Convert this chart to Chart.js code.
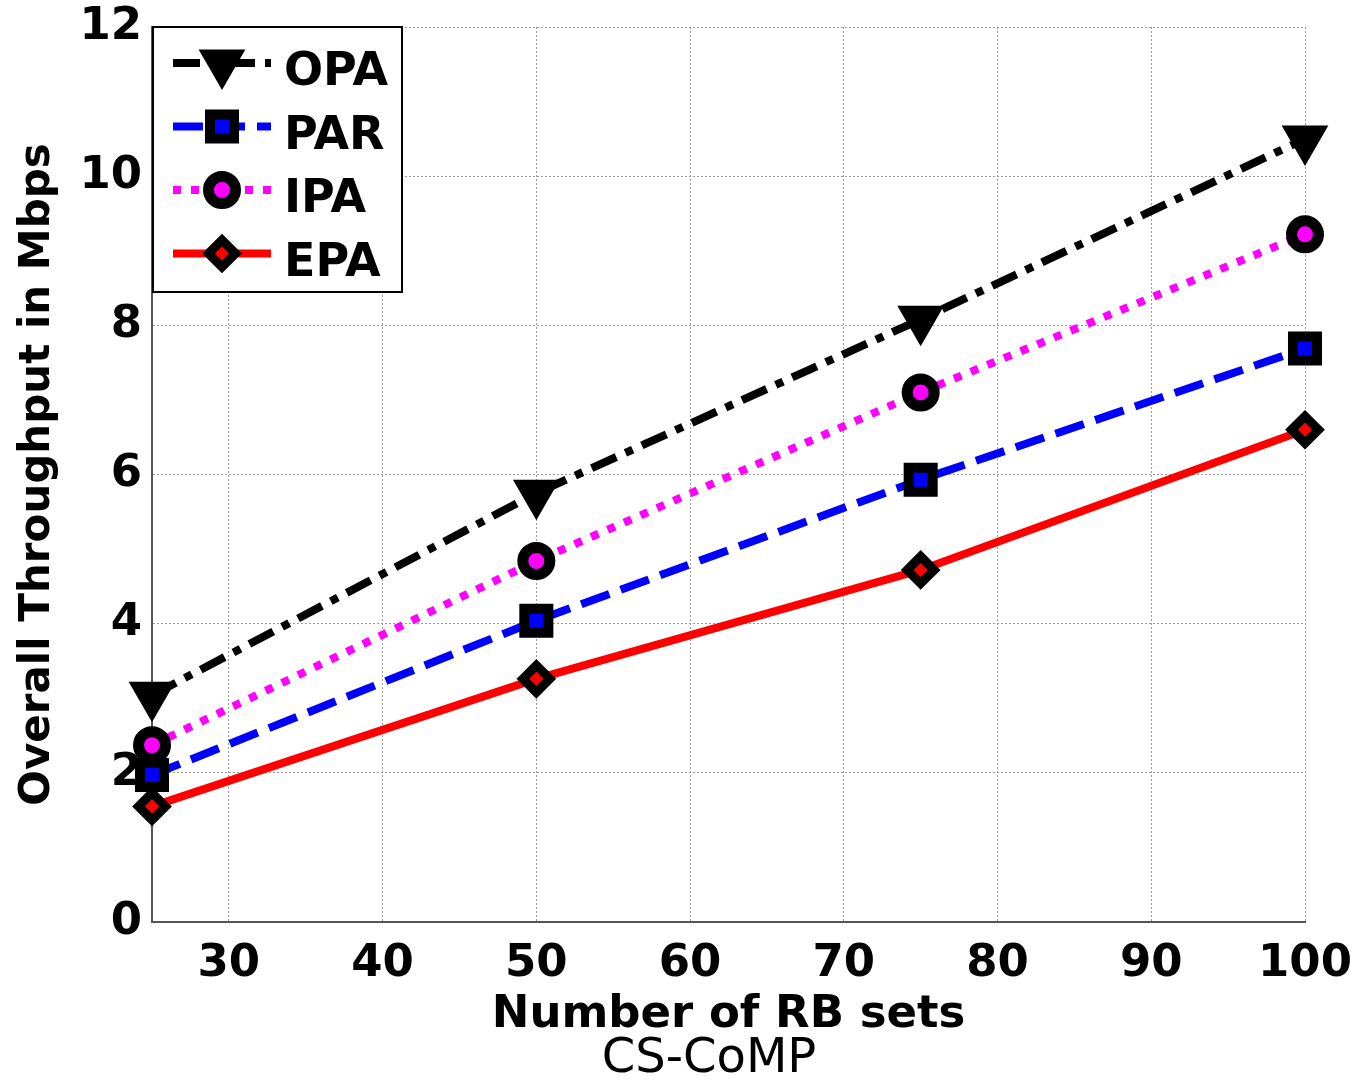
<!DOCTYPE html>
<html>
<head>
<meta charset="utf-8">
<script src="https://cdn.jsdelivr.net/npm/chart.js@4/dist/chart.umd.min.js"></script>
<style>
  body { margin: 0; background: #fff; overflow: hidden; }
  #wrap { position: relative; width: 1360px; height: 1080px; }
  #sub { position: absolute; left: 409px; width: 600px; top: 1027px; text-align: center;
         font: 48px 'DejaVu Sans', sans-serif; line-height: 56px; color: #000; }
</style>
</head>
<body>
<div id="wrap">
  <canvas id="comp_chart" width="1360" height="1080"></canvas>
  <div id="sub">CS-CoMP</div>
</div>
<script>
const rbSets = [25, 50, 75, 100];
const xTicks = [30, 40, 50, 60, 70, 80, 90, 100];
const yTicks = [0, 2, 4, 6, 8, 10, 12];

const opa = [3.04, 5.75, 8.08, 10.5];
const par = [1.97, 4.04, 5.93, 7.69];
const ipa = [2.37, 4.84, 7.10, 9.22];
const epa = [1.55, 3.26, 4.72, 6.60];

const toPts = (vals) => rbSets.map((x, i) => ({x: x, y: vals[i]}));

// legend drawn as a box with line sample + marker, like the MATLAB one
const legendBox = {
  id: 'legendBox',
  afterDraw(chart) {
    const ctx = chart.ctx;
    const x0 = chart.chartArea.left + 1, y0 = chart.chartArea.top;
    ctx.save();
    ctx.fillStyle = '#fff';
    ctx.fillRect(x0, y0, 249, 265);
    ctx.strokeStyle = '#000';
    ctx.lineWidth = 2;
    ctx.strokeRect(x0, y0, 249, 265);
    chart.data.datasets.forEach((ds, i) => {
      const y = y0 + 36 + i * 63.5;
      ctx.strokeStyle = ds.borderColor;
      ctx.lineWidth = ds.borderWidth;
      ctx.lineCap = 'butt';
      ctx.setLineDash(ds.borderDash || []);
      ctx.beginPath();
      ctx.moveTo(x0 + 20, y);
      ctx.lineTo(x0 + 118, y);
      ctx.stroke();
      ctx.setLineDash([]);
      ctx.fillStyle = ds.pointBackgroundColor;
      ctx.strokeStyle = ds.pointBorderColor;
      ctx.lineWidth = ds.pointBorderWidth;
      Chart.helpers.drawPoint(ctx, {
        pointStyle: ds.pointStyle,
        rotation: ds.pointRotation || 0,
        radius: ds.pointRadius,
        borderWidth: ds.pointBorderWidth
      }, x0 + 69, y);
      ctx.fillStyle = '#000';
      ctx.font = 'bold 46px "DejaVu Sans"';
      ctx.textBaseline = 'alphabetic';
      ctx.fillText(ds.label, x0 + 131, y + 22);
    });
    ctx.restore();
  }
};

const ctx = document.getElementById('comp_chart');

new Chart(ctx, {
  type: 'line',
  data: {
    datasets: [
      {
        label: 'OPA', data: toPts(opa),
        borderColor: '#000', borderWidth: 8, borderDash: [27, 10, 8, 10],
        pointStyle: 'triangle', pointRotation: 180, pointRadius: 25,
        pointBackgroundColor: '#000', pointBorderColor: '#000', pointBorderWidth: 2
      },
      {
        label: 'PAR', data: toPts(par),
        borderColor: '#0000ff', borderWidth: 8, borderDash: [30, 12],
        pointStyle: 'rect', pointRadius: 17,
        pointBackgroundColor: '#0000ff', pointBorderColor: '#000', pointBorderWidth: 10
      },
      {
        label: 'IPA', data: toPts(ipa),
        borderColor: '#ff00ff', borderWidth: 8, borderDash: [8, 10],
        pointStyle: 'circle', pointRadius: 13.5,
        pointBackgroundColor: '#ff00ff', pointBorderColor: '#000', pointBorderWidth: 11
      },
      {
        label: 'EPA', data: toPts(epa),
        borderColor: '#ff0000', borderWidth: 8,
        pointStyle: 'rectRot', pointRadius: 13.5,
        pointBackgroundColor: '#ff0000', pointBorderColor: '#000', pointBorderWidth: 9
      }
    ]
  },
  options: {
    responsive: false,
    animation: false,
    clip: false,
    layout: { padding: { top: 27, right: 55, left: 0, bottom: 0 } },
    elements: { line: { tension: 0, borderCapStyle: 'butt' } },
    plugins: {
      legend: { display: false },
      tooltip: { enabled: false }
    },
    scales: {
      x: {
        type: 'linear', min: 25, max: 100,
        afterBuildTicks: (s) => { s.ticks = xTicks.map(v => ({value: v})); },
        afterFit: (s) => { s.height = 158; s.paddingLeft = 0; s.paddingRight = 0; },
        grid: { color: '#9a9a9a', lineWidth: 1, drawTicks: false },
        border: { display: true, color: '#555', width: 2, dash: [2, 2] },
        ticks: { color: '#000', padding: 15, maxRotation: 0,
                 font: { family: 'DejaVu Sans', size: 45, weight: 'bold' } },
        title: { display: true, text: 'Number of RB sets', color: '#000',
                 padding: { top: 0, bottom: 38 },
                 font: { family: 'DejaVu Sans', size: 45, weight: 'bold' } }
      },
      y: {
        type: 'linear', min: 0, max: 12,
        afterBuildTicks: (s) => { s.ticks = yTicks.map(v => ({value: v})); },
        afterFit: (s) => { s.width = 152; s.paddingTop = 0; s.paddingBottom = 0; },
        grid: { color: '#9a9a9a', lineWidth: 1, drawTicks: false },
        border: { display: true, color: '#555', width: 2, dash: [2, 2] },
        ticks: { color: '#000', padding: 10,
                 font: { family: 'DejaVu Sans', size: 45, weight: 'bold' } },
        title: { display: true, text: 'Overall Throughput in Mbps', color: '#000',
                 padding: { top: 13, bottom: 0 },
                 font: { family: 'DejaVu Sans', size: 42, weight: 'bold' } }
      }
    }
  },
  plugins: [legendBox]
});
</script>
</body>
</html>
